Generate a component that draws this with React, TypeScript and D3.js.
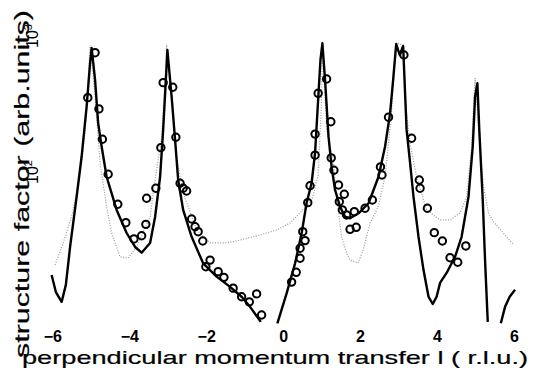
import { useEffect, useRef } from "react";
import * as d3 from "d3";

const xTicks = [-6, -4, -2, 0, 2, 4, 6];
const yTicks = [100, 1000];

// thick calculated curve, drawn in three pieces
const fitA: [number, number][] = [
  [-6.02, 17.5], [-5.91, 13.1], [-5.76, 11.1], [-5.65, 14.8], [-5.54, 28.1],
  [-5.37, 65.8], [-5.24, 130], [-5.11, 302], [-5.02, 633], [-4.98, 816],
  [-4.89, 475], [-4.81, 229], [-4.72, 154], [-4.59, 92.3], [-4.33, 52.6],
  [-4.07, 35.6], [-3.85, 28.1], [-3.68, 25.5], [-3.46, 30.1], [-3.33, 46.7],
  [-3.2, 91.9], [-3.12, 204], [-3.05, 475], [-3.01, 789], [-2.9, 358],
  [-2.81, 172], [-2.73, 87.3], [-2.6, 52.6], [-2.38, 33.4], [-2.08, 21.3],
  [-1.73, 17.0], [-1.38, 14.3], [-1.08, 12.1], [-0.86, 10.2], [-0.58, 7.9],
];
const fitB: [number, number][] = [
  [-0.15, 7.72], [0.09, 12.8], [0.31, 21.3], [0.48, 35.4], [0.61, 59.2],
  [0.74, 83.0], [0.83, 138], [0.92, 381], [0.97, 666], [1.02, 884],
  [1.09, 475], [1.18, 182], [1.26, 109], [1.35, 73.7], [1.48, 55.6],
  [1.61, 46.9], [1.74, 45.7], [1.96, 49.7], [2.22, 58.9], [2.48, 92.3],
  [2.65, 154], [2.78, 270], [2.86, 475], [2.94, 873], [3.03, 725],
  [3.12, 844], [3.21, 204], [3.3, 117], [3.39, 65.5], [3.52, 33.3],
  [3.65, 19.0], [3.78, 12.1], [3.89, 10.7], [3.99, 12.1], [4.08, 15.3],
  [4.25, 18.1], [4.47, 23.8], [4.64, 33.4], [4.82, 65.8], [4.93, 154],
  [4.99, 358], [5.05, 449], [5.1, 204], [5.19, 62.3], [5.25, 22.5], [5.32, 7.9],
];
const fitC: [number, number][] = [
  [5.66, 7.72], [5.77, 10.2], [5.89, 12.1], [6.03, 13.6],
];

// dotted calculated curve
const fitDotted: [number, number][] = [
  [-5.93, 20.7], [-5.72, 30.1], [-5.5, 46.9], [-5.37, 70.1], [-5.24, 117],
  [-5.15, 194], [-5.07, 475], [-5.02, 859], [-4.89, 356], [-4.76, 117],
  [-4.59, 55.3], [-4.46, 35.6], [-4.24, 23.7], [-4.03, 23.3], [-3.81, 28.2],
  [-3.46, 46.7], [-3.33, 87.3], [-3.16, 181], [-3.07, 475], [-3.03, 859],
  [-2.86, 272], [-2.77, 129], [-2.6, 70.1], [-2.25, 37.5], [-1.9, 30.1],
  [-1.47, 30.1], [-1.12, 31.6], [-0.6, 34.4], [-0.17, 37.5], [0.18, 42.2],
  [0.44, 50.0], [0.75, 62.3], [0.91, 95.0], [0.99, 286], [1.03, 888],
  [1.13, 204], [1.31, 117], [1.39, 65.5], [1.52, 33.3], [1.65, 25.4],
  [1.74, 22.5], [1.95, 21.4], [2.08, 26.7], [2.26, 42.2], [2.47, 55.3],
  [2.65, 91.9], [2.82, 272], [2.91, 789], [2.96, 888], [3.12, 859],
  [3.2, 286], [3.3, 163], [3.47, 91.9], [3.73, 52.6], [4.08, 44.4],
  [4.34, 44.4], [4.6, 50.0], [4.77, 65.5], [4.9, 153], [4.99, 491],
  [5.12, 153], [5.21, 77.6], [5.34, 50.0], [5.47, 43.1], [5.73, 35.4], [5.99, 29.1],
];

// measured points (open circles)
const measured: [number, number][] = [
  [-5.08, 352], [-4.89, 754], [-4.79, 291], [-4.7, 174], [-4.55, 96.2],
  [-4.3, 57.9], [-4.09, 42.4], [-3.88, 32.2], [-3.68, 34.0], [-3.57, 41.2],
  [-3.55, 64.1], [-3.31, 75.9], [-3.18, 151], [-3.12, 454], [-2.87, 420],
  [-2.79, 180], [-2.68, 82.6], [-2.6, 75.9], [-2.51, 72.5], [-2.38, 45.1],
  [-2.29, 39.6], [-2.21, 36.4], [-2.09, 31.1], [-2.01, 20.1], [-1.9, 22.5],
  [-1.69, 18.5], [-1.54, 16.8], [-1.3, 14.0], [-1.08, 12.1], [-0.88, 11.1],
  [-0.69, 12.7], [-0.56, 8.89], [0.22, 15.5], [0.34, 18.3], [0.44, 23.2],
  [0.44, 27.5], [0.57, 31.3], [0.51, 36.4], [0.64, 59.5], [0.7, 79.3],
  [0.83, 133], [0.83, 190], [0.91, 379], [1.13, 483], [1.24, 234],
  [1.25, 127], [1.32, 103], [1.44, 80.3], [1.59, 68.6], [1.46, 60.5],
  [1.54, 52.6], [1.65, 48.3], [1.85, 51.1], [1.74, 37.9], [1.9, 39.2],
  [2.13, 54.1], [2.32, 62.3], [2.53, 109], [2.57, 95.0], [2.74, 253],
  [3.14, 725], [3.34, 177], [3.54, 87.3], [3.56, 75.9], [3.75, 54.1],
  [3.93, 35.8], [4.14, 31.1], [4.34, 23.4], [4.54, 21.7], [4.75, 28.6],
];

const W = 533;
const H = 375;
const FONT = "'Liberation Sans', Arial, sans-serif";

export default function App() {
  const ref = useRef<SVGSVGElement>(null);

  useEffect(() => {
    if (!ref.current) return;
    const svg = d3.select(ref.current);
    svg.selectAll("*").remove();

    const x = d3.scaleLinear().domain([-6, 6]).range([52.4, 513.9]);
    const y = d3.scaleLog().domain([100, 1000]).range([172, 36]);
    const line = d3.line<[number, number]>().x((d) => x(d[0])).y((d) => y(d[1]));

    // dotted curve
    svg.append("path")
      .datum(fitDotted)
      .attr("fill", "none")
      .attr("stroke", "#9a9a9a")
      .attr("stroke-width", 1.2)
      .attr("stroke-dasharray", "1 1.6")
      .attr("d", line as any);

    // thick curve
    [fitA, fitB, fitC].forEach((seg) => {
      svg.append("path")
        .datum(seg)
        .attr("fill", "none")
        .attr("stroke", "#000")
        .attr("stroke-width", 2.4)
        .attr("stroke-linejoin", "round")
        .attr("d", line as any);
    });

    // data points
    svg.append("g")
      .selectAll("circle")
      .data(measured)
      .join("circle")
      .attr("cx", (d) => x(d[0]))
      .attr("cy", (d) => y(d[1]))
      .attr("r", 3.7)
      .attr("fill", "none")
      .attr("stroke", "#000")
      .attr("stroke-width", 2);

    // x tick labels
    svg.append("g")
      .attr("transform", `translate(0,342)`)
      .call(d3.axisBottom(x).tickValues(xTicks).tickSize(0).tickFormat(d3.format("d") as any))
      .call((g) => g.select(".domain").remove())
      .call((g) => g.selectAll("text")
        .attr("y", 0).attr("dy", 0)
        .attr("font-family", FONT).attr("font-size", 16).attr("font-weight", "bold")
        .attr("fill", "#000"));

    // y tick labels, rotated
    yTicks.forEach((t) => {
      const txt = svg.append("text")
        .attr("transform", `translate(38,${y(t)}) rotate(-90)`)
        .attr("text-anchor", "middle")
        .attr("font-family", FONT)
        .attr("font-size", 16)
        .attr("fill", "#000");
      txt.append("tspan").text("10");
      txt.append("tspan").attr("font-size", 11).attr("dy", -6).text(String(Math.log10(t)));
    });

    // axis titles
    svg.append("text")
      .attr("x", 22).attr("y", 364)
      .attr("textLength", 506).attr("lengthAdjust", "spacingAndGlyphs")
      .attr("font-family", FONT).attr("font-size", 19)
      .attr("fill", "#000").attr("stroke", "#000").attr("stroke-width", 0.2)
      .text("perpendicular momentum transfer l ( r.l.u.)");

    svg.append("text")
      .attr("transform", `translate(29,358) rotate(-90)`)
      .attr("textLength", 348).attr("lengthAdjust", "spacingAndGlyphs")
      .attr("font-family", FONT).attr("font-size", 21)
      .attr("fill", "#000").attr("stroke", "#000").attr("stroke-width", 0.2)
      .text("structure factor (arb.units)");
  }, []);

  return (
    <svg
      ref={ref}
      width={W}
      height={H}
      style={{ position: "absolute", left: 0, top: 0, background: "#fff" }}
    />
  );
}
